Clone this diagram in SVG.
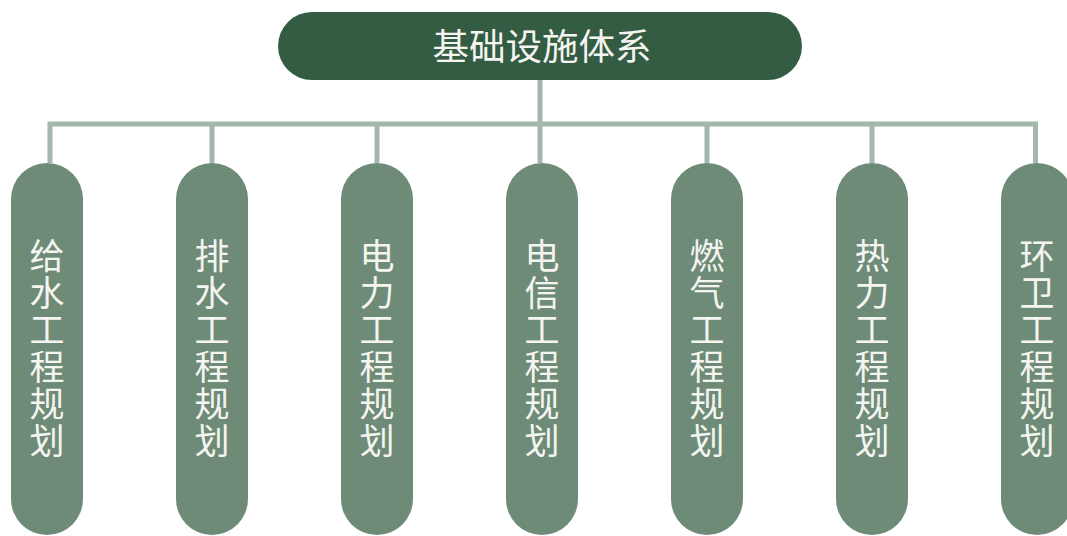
<svg xmlns="http://www.w3.org/2000/svg" width="1067" height="536" viewBox="0 0 1067 536">
<style>
.conn{stroke:#a2b8ad;stroke-width:5;fill:none}
.child rect{fill:#6e8b77}
.t{font-family:"Noto Sans CJK SC","Noto Sans",sans-serif;fill:#f4f4f0;text-anchor:middle}
.ct{font-size:35px}
</style>
<rect width="1067" height="536" fill="#ffffff"/>
<g id="connectors">
<path class="conn" d="M540 80V163M50 163V124H1035.5V163M212 124V163M377 124V163M707 124V163M872 124V163"/>
</g>
<g id="root">
<rect x="278" y="12" width="524" height="68" rx="34" fill="#335c42"/>
<text class="t" x="542" y="60" font-size="36.5">基础设施体系</text>
</g>
<g id="n1" class="child"><rect x="11" y="163" width="72" height="372" rx="36"/>
<text class="t ct" x="47" y="269"><tspan x="47">给</tspan><tspan x="47" dy="37">水</tspan><tspan x="47" dy="37">工</tspan><tspan x="47" dy="37">程</tspan><tspan x="47" dy="37">规</tspan><tspan x="47" dy="37">划</tspan></text></g>
<g id="n2" class="child"><rect x="176" y="163" width="72" height="372" rx="36"/>
<text class="t ct" x="212" y="269"><tspan x="212">排</tspan><tspan x="212" dy="37">水</tspan><tspan x="212" dy="37">工</tspan><tspan x="212" dy="37">程</tspan><tspan x="212" dy="37">规</tspan><tspan x="212" dy="37">划</tspan></text></g>
<g id="n3" class="child"><rect x="341" y="163" width="72" height="372" rx="36"/>
<text class="t ct" x="377" y="269"><tspan x="377">电</tspan><tspan x="377" dy="37">力</tspan><tspan x="377" dy="37">工</tspan><tspan x="377" dy="37">程</tspan><tspan x="377" dy="37">规</tspan><tspan x="377" dy="37">划</tspan></text></g>
<g id="n4" class="child"><rect x="506" y="163" width="72" height="372" rx="36"/>
<text class="t ct" x="542" y="269"><tspan x="542">电</tspan><tspan x="542" dy="37">信</tspan><tspan x="542" dy="37">工</tspan><tspan x="542" dy="37">程</tspan><tspan x="542" dy="37">规</tspan><tspan x="542" dy="37">划</tspan></text></g>
<g id="n5" class="child"><rect x="671" y="163" width="72" height="372" rx="36"/>
<text class="t ct" x="707" y="269"><tspan x="707">燃</tspan><tspan x="707" dy="37">气</tspan><tspan x="707" dy="37">工</tspan><tspan x="707" dy="37">程</tspan><tspan x="707" dy="37">规</tspan><tspan x="707" dy="37">划</tspan></text></g>
<g id="n6" class="child"><rect x="836" y="163" width="72" height="372" rx="36"/>
<text class="t ct" x="872" y="269"><tspan x="872">热</tspan><tspan x="872" dy="37">力</tspan><tspan x="872" dy="37">工</tspan><tspan x="872" dy="37">程</tspan><tspan x="872" dy="37">规</tspan><tspan x="872" dy="37">划</tspan></text></g>
<g id="n7" class="child"><rect x="1001" y="163" width="72" height="372" rx="36"/>
<text class="t ct" x="1037" y="269"><tspan x="1037">环</tspan><tspan x="1037" dy="37">卫</tspan><tspan x="1037" dy="37">工</tspan><tspan x="1037" dy="37">程</tspan><tspan x="1037" dy="37">规</tspan><tspan x="1037" dy="37">划</tspan></text></g>
</svg>
